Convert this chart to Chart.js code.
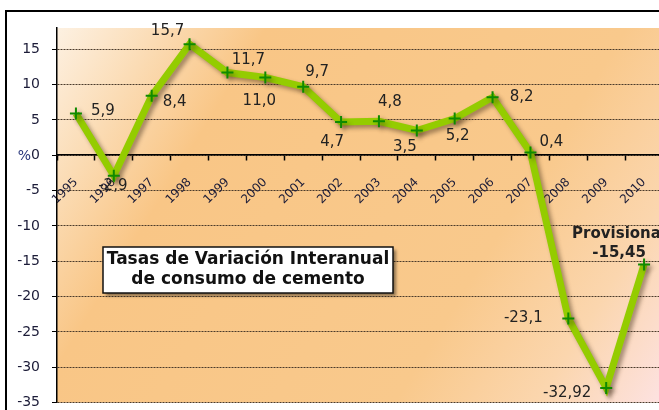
<!DOCTYPE html>
<html>
<head>
<meta charset="utf-8">
<script src="https://cdn.jsdelivr.net/npm/chart.js@4"></script>
<style>
  html, body { margin: 0; padding: 0; background: #fff; overflow: hidden; }
  canvas { display: block; }
</style>
</head>
<body>
<canvas id="chart" width="700" height="423"></canvas>
<script>
const years = ['1995', '1996', '1997', '1998', '1999', '2000', '2001', '2002',
  '2003', '2004', '2005', '2006', '2007', '2008', '2009', '2010'];
const variation = [5.9, -2.9, 8.4, 15.7, 11.7, 11.0, 9.7, 4.7, 4.8, 3.5, 5.2, 8.2, 0.4, -23.1, -32.92, -15.45];
const valueLabels = ['5,9', '-2,9', '8,4', '15,7', '11,7', '11,0', '9,7', '4,7',
  '4,8', '3,5', '5,2', '8,2', '0,4', '-23,1', '-32,92', '-15,45'];
const titleLines = ['Tasas de Variación Interanual', 'de consumo de cemento'];
const noteText = 'Provisional';
const axisUnit = '%';

const tickColor = '#1c1c38';
const fontFamily = '"DejaVu Sans", Verdana, sans-serif';

// white frame and the orange gradient behind the plot
const background = {
  id: 'background',
  beforeDraw(chart) {
    const { ctx, chartArea: a } = chart;
    ctx.save();
    ctx.fillStyle = '#fff';
    ctx.fillRect(0, 0, chart.width, chart.height);
    ctx.strokeStyle = '#000';
    ctx.lineWidth = 2;
    ctx.strokeRect(6, 11, chart.width + 20, chart.height + 20);
    const g = ctx.createLinearGradient(a.left, a.top, a.right, a.bottom);
    g.addColorStop(0, '#fdf1e2');
    g.addColorStop(0.25, '#f9c686');
    g.addColorStop(0.68, '#f9c98c');
    g.addColorStop(0.85, '#fbd6ae');
    g.addColorStop(1, '#fde2e2');
    ctx.fillStyle = g;
    ctx.fillRect(a.left, a.top, a.right - a.left, a.bottom - a.top);
    ctx.restore();
  }
};

// soft drop shadow under the line
const lineShadow = {
  id: 'lineShadow',
  beforeDatasetDraw(chart) {
    const ctx = chart.ctx;
    ctx.save();
    ctx.shadowColor = 'rgba(60,40,20,0.45)';
    ctx.shadowBlur = 4;
    ctx.shadowOffsetX = 3;
    ctx.shadowOffsetY = 3;
  },
  afterDatasetDraw(chart) {
    chart.ctx.restore();
  }
};

// value labels, unit sign and the title box
const annotations = {
  id: 'annotations',
  afterDraw(chart) {
    const { ctx } = chart;
    const meta = chart.getDatasetMeta(0);
    const offsets = [[27, -2], [-1, 10], [23, 6], [-22, -13], [21, -12], [-6, 24], [14, -15], [-9, 20],
      [11, -19], [-12, 17], [3, 18], [29, 0], [21, -10], [-45, 0], [-39, 5], [-25, -11]];
    ctx.save();
    ctx.textAlign = 'center';
    ctx.textBaseline = 'middle';
    ctx.fillStyle = '#222';
    meta.data.forEach((pt, i) => {
      const last = i === meta.data.length - 1;
      ctx.font = (last ? 'bold ' : '') + '15px ' + fontFamily;
      ctx.fillText(valueLabels[i], pt.x + offsets[i][0], pt.y + offsets[i][1]);
      if (last) {
        ctx.fillText(noteText, pt.x + offsets[i][0], pt.y + offsets[i][1] - 19);
      }
    });

    const y = chart.scales.y;
    ctx.font = '14px ' + fontFamily;
    ctx.fillStyle = '#27357a';
    ctx.textAlign = 'right';
    ctx.fillText(axisUnit, 31, y.getPixelForValue(0) + 1);

    const bx = 103, by = 247, bw = 290, bh = 46;
    ctx.save();
    ctx.shadowColor = 'rgba(0,0,0,0.45)';
    ctx.shadowBlur = 3;
    ctx.shadowOffsetX = 3;
    ctx.shadowOffsetY = 3;
    ctx.fillStyle = '#fff';
    ctx.fillRect(bx, by, bw, bh);
    ctx.restore();
    ctx.strokeStyle = '#111';
    ctx.lineWidth = 1.5;
    ctx.strokeRect(bx, by, bw, bh);
    ctx.fillStyle = '#111';
    ctx.textAlign = 'center';
    ctx.font = 'bold 17px ' + fontFamily;
    ctx.fillText(titleLines[0], bx + bw / 2, by + 13);
    ctx.fillText(titleLines[1], bx + bw / 2, by + 33);
    ctx.restore();
  }
};

new Chart(document.getElementById('chart'), {
  type: 'line',
  data: {
    labels: years,
    datasets: [{
      data: variation,
      borderColor: '#94cc00',
      borderWidth: 7,
      tension: 0,
      pointStyle: 'cross',
      pointRadius: 6,
      pointBorderWidth: 2,
      pointBorderColor: '#0f8a00',
      pointBackgroundColor: '#0f8a00',
      clip: false
    }]
  },
  options: {
    responsive: false,
    animation: false,
    layout: { padding: { left: 0, right: 37, top: 28, bottom: 8 } },
    plugins: { legend: { display: false }, tooltip: { enabled: false } },
    scales: {
      x: {
        position: { y: 0 },
        offset: true,
        grid: { offset: true, drawOnChartArea: false, tickLength: 5, tickColor: '#000', tickWidth: 1.5 },
        border: { display: true, color: '#000', width: 1.5 },
        ticks: {
          autoSkip: false,
          minRotation: 45,
          maxRotation: 45,
          padding: 15,
          color: tickColor,
          font: { family: fontFamily, size: 12 }
        }
      },
      y: {
        min: -35,
        max: 18,
        afterFit(scale) { scale.width = 57; },
        grid: { color: '#4a3a2a', lineWidth: 1, tickLength: 5, tickColor: '#000' },
        border: { display: true, color: '#000', width: 1.5, dash: [2, 1] },
        ticks: {
          stepSize: 5,
          includeBounds: false,
          padding: 12,
          color: tickColor,
          font: { family: fontFamily, size: 14 },
          callback: v => String(v)
        }
      }
    }
  },
  plugins: [background, lineShadow, annotations]
});
</script>
</body>
</html>
